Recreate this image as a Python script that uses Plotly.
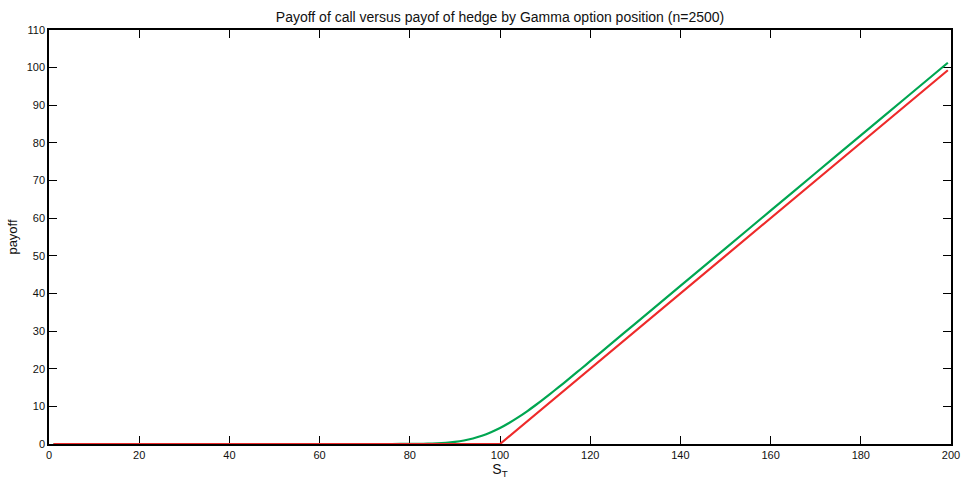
import plotly.graph_objects as go

# Values
s_call = [1, 100, 199.3]
call_payoff = [0, 0, 99.3]

s_hedge = [1, 20, 40, 60, 70, 76, 80, 82, 84, 86, 88, 90, 92, 94, 96, 98, 100, 102, 104,
           106, 108, 110, 112, 114, 116, 118, 120, 125, 130, 140, 150, 160, 170, 180, 190, 199.3]
hedge_payoff = [0, 0, 0, 0, 0, 0.002, 0.02, 0.04, 0.08, 0.15, 0.30, 0.55, 0.92, 1.47, 2.19, 3.13, 4.24, 5.57, 7.06,
                8.68, 10.43, 12.26, 14.15, 16.07, 18.03, 20.0, 22.0, 27.0, 32.0, 42.0, 52.0, 62.0, 72.0, 82.0, 92.0, 101.3]

x_ticks = [0, 20, 40, 60, 80, 100, 120, 140, 160, 180, 200]
y_ticks = [0, 10, 20, 30, 40, 50, 60, 70, 80, 90, 100, 110]

FONT = "Liberation Sans, Arial, sans-serif"

fig = go.Figure()
fig.add_trace(go.Scatter(x=s_hedge, y=hedge_payoff, mode="lines",
                         line=dict(color="#00a651", width=2.2, shape="spline", smoothing=0.6),
                         showlegend=False))
fig.add_trace(go.Scatter(x=s_call, y=call_payoff, mode="lines",
                         line=dict(color="#ee2a2a", width=2.2),
                         showlegend=False))

axis_common = dict(showgrid=False, zeroline=False, showline=True, linecolor="black", linewidth=1.5,
                   mirror="ticks", ticks="inside", ticklen=8, tickwidth=1, tickcolor="black",
                   layer="below traces", automargin=False, ticklabeloverflow="allow",
                   tickfont=dict(family=FONT, size=11, color="#111"))

fig.update_layout(
    width=961, height=480,
    margin=dict(l=49, r=10, t=30, b=36, autoexpand=False),
    paper_bgcolor="white", plot_bgcolor="white",
    title=dict(text="Payoff of call versus payof of hedge by Gamma option position (n=2500)",
               xref="paper", x=0.5, xanchor="center", y=0.965, yanchor="middle",
               font=dict(family=FONT, size=14, color="#111")),
    xaxis=dict(range=[0, 200], tickvals=x_ticks, ticktext=[str(v) for v in x_ticks],
               title=dict(text="S<sub>T</sub>", standoff=4,
                          font=dict(family=FONT, size=14, color="#111")),
               **axis_common),
    yaxis=dict(range=[0, 110], tickvals=y_ticks, ticktext=[str(v) for v in y_ticks],
               title=dict(text="payoff", standoff=6,
                          font=dict(family=FONT, size=13, color="#111")),
               **axis_common),
)

fig.write_html("out.html", config={"displayModeBar": False},
               post_script="document.body.style.margin='0';document.body.style.overflow='hidden';")
